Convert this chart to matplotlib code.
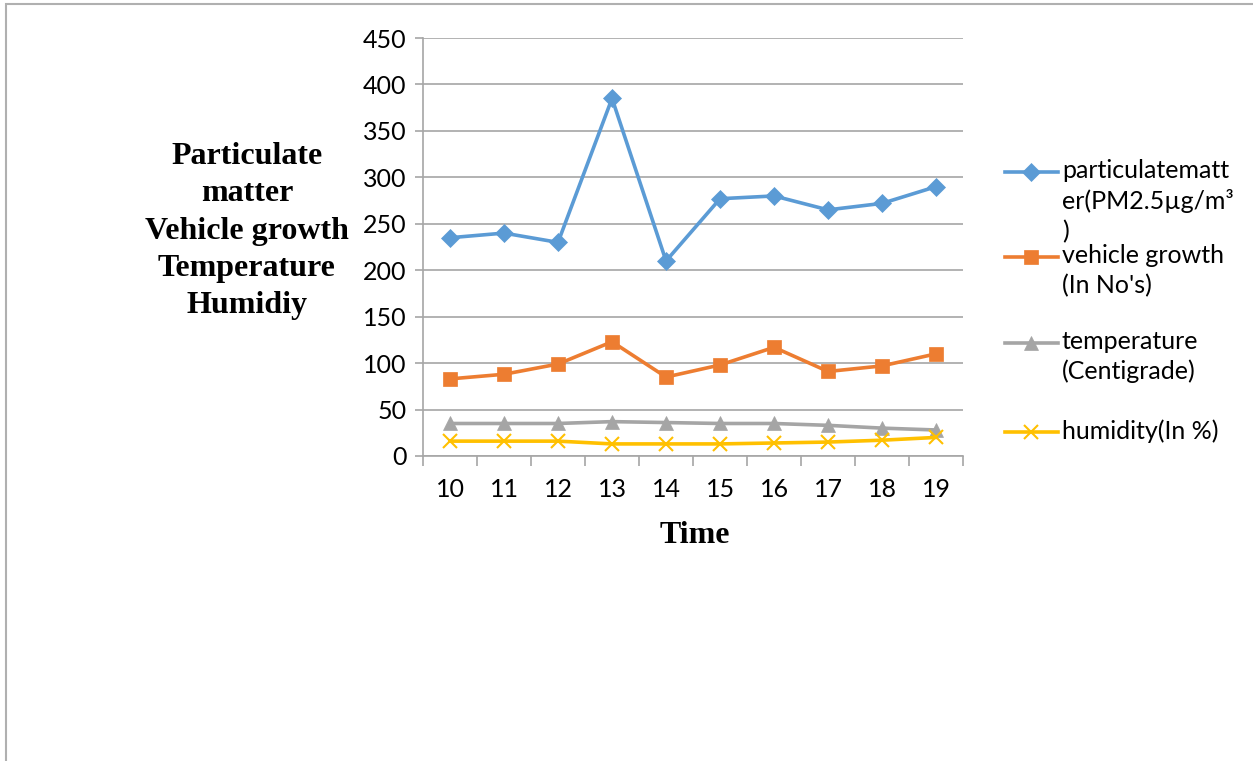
import matplotlib
matplotlib.use("Agg")
import matplotlib.pyplot as plt
from matplotlib.lines import Line2D
from matplotlib.patches import Rectangle

plt.rcParams['font.family'] = ['Lato', 'DejaVu Sans']

# hourly readings
hours = [10, 11, 12, 13, 14, 15, 16, 17, 18, 19]
pm25 = [235, 240, 230, 385, 210, 277, 280, 265, 272, 290]
vehicles = [83, 88, 99, 123, 85, 98, 117, 91, 97, 110]
temperature = [35, 35, 35, 37, 36, 35, 35, 33, 30, 28]
humidity = [16, 16, 16, 13, 13, 13, 14, 15, 17, 20]

series = [
    (pm25, "#5b9bd5", "D", 9.5, "particulatematt\ner(PM2.5µg/m³\n)"),
    (vehicles, "#ed7d31", "s", 10.5, "vehicle growth\n(In No's)"),
    (temperature, "#a5a5a5", "^", 10.5, "temperature\n(Centigrade)"),
    (humidity, "#ffc000", "x", 10, "humidity(In %)"),
]

fig = plt.figure(figsize=(12.53, 7.61), dpi=100)
ax = fig.add_axes([0.3376, 0.4008, 0.431, 0.5492])

grid_col = "#a6a6a6"
for vals, col, mk, ms, lab in series:
    ax.plot(hours, vals, color=col, lw=2.6, marker=mk, markersize=ms,
            markeredgewidth=1.5 if mk == "x" else 0.5, markeredgecolor=col,
            solid_joinstyle="round", zorder=3)

ax.set_xlim(hours[0] - 0.5, hours[-1] + 0.5)
ax.set_ylim(0, 450)
ax.set_yticks(range(0, 451, 50))
ax.set_xticks(hours)
ax.set_xticks([h - 0.5 for h in hours] + [hours[-1] + 0.5], minor=True)
ax.tick_params(axis="x", which="major", length=0, pad=16, labelsize=18)
ax.tick_params(axis="x", which="minor", length=7, width=1.2, color=grid_col)
ax.tick_params(axis="y", length=6, width=1.2, color=grid_col, pad=6, labelsize=18)
ax.grid(axis="y", color=grid_col, lw=1.2, zorder=0)

for side in ("top", "right"):
    ax.spines[side].set_visible(False)
for side in ("left", "bottom"):
    ax.spines[side].set_color(grid_col)
    ax.spines[side].set_linewidth(1.2)

serif_bold = dict(family="Liberation Serif", fontweight="bold", fontsize=23)
ax.set_ylabel("Particulate\nmatter\nVehicle growth\nTemperature\nHumidiy",
              rotation=0, ha="center", va="center", linespacing=1.37, **serif_bold)
ax.yaxis.set_label_coords(-0.326, 0.538)
ax.set_xlabel("Time", va="center", **serif_bold)
ax.xaxis.set_label_coords(0.504, -0.19)

# legend laid out on the right, handle beside the first line of each label
W, H = 1253, 761
legend_rows = [172, 257, 343, 432]
for (vals, col, mk, ms, lab), ypx in zip(series, legend_rows):
    y = 1 - ypx / H
    fig.add_artist(Line2D([1005 / W, 1058 / W], [y, y], color=col, lw=2.6,
                          transform=fig.transFigure))
    fig.add_artist(Line2D([1031 / W], [y], color=col, marker=mk, markersize=ms,
                          markeredgewidth=1.5 if mk == "x" else 0.5,
                          markeredgecolor=col, transform=fig.transFigure))
    fig.text(1062 / W, y + 13 / H, lab, fontsize=18, va="top", ha="left",
             linespacing=1.35, transform=fig.transFigure)

# page frame
fig.add_artist(Rectangle((6 / W, -0.1), 1.2, 1 - 4 / H + 0.1, fill=False,
                         edgecolor="#b0b0b0", lw=1.5, transform=fig.transFigure))

fig.savefig("out.png", dpi=100)
